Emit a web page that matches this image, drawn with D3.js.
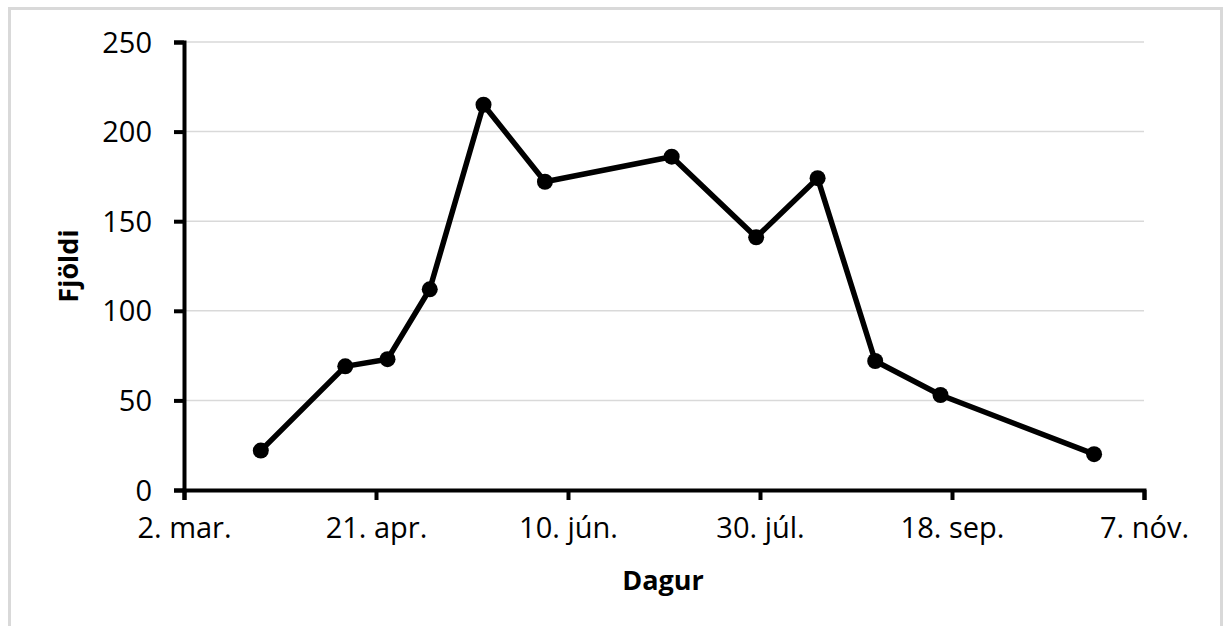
<!DOCTYPE html>
<html>
<head>
<meta charset="utf-8">
<script src="https://cdn.jsdelivr.net/npm/d3@7"></script>
<style>
  body { margin: 0; background: #fff; }
  svg { display: block; }
  .tick text { font-family: "Open Sans", sans-serif; font-size: 29px; fill: #000; }
  .axis-title { font-family: "Open Sans", sans-serif; font-size: 27px; font-weight: bold; }
</style>
</head>
<body>
<div id="chart"></div>
<script>
// Survey dates and counts
const dates = ["2015-03-22", "2015-04-13", "2015-04-24", "2015-05-05", "2015-05-19", "2015-06-04",
               "2015-07-07", "2015-07-29", "2015-08-14", "2015-08-29", "2015-09-15", "2015-10-25"];
const counts = [22, 69, 73, 112, 215, 172, 186, 141, 174, 72, 53, 20];

// Axis ticks
const xTicks = ["2015-03-02", "2015-04-21", "2015-06-10", "2015-07-30", "2015-09-18", "2015-11-07"];
const yTicks = [0, 50, 100, 150, 200, 250];
const monthNames = ["jan", "feb", "mar", "apr", "maí", "jún", "júl", "ágú", "sep", "okt", "nóv", "des"];

const width = 1226, height = 626;
const margin = { top: 42, right: 82, bottom: 136, left: 184 };

const parse = d3.utcParse("%Y-%m-%d");
const data = dates.map((d, i) => ({ date: parse(d), value: counts[i] }));

const svg = d3.select("#chart").append("svg")
    .attr("width", width)
    .attr("height", height);

// Chart frame
svg.append("rect")
    .attr("x", 9.5).attr("y", 8.5)
    .attr("width", 1212).attr("height", 640)
    .attr("fill", "#fff")
    .attr("stroke", "#d9d9d9")
    .attr("stroke-width", 3);

const x = d3.scaleUtc()
    .domain([parse(xTicks[0]), parse(xTicks[xTicks.length - 1])])
    .range([margin.left, width - margin.right]);

const y = d3.scaleLinear()
    .domain([0, 250])
    .range([height - margin.bottom, margin.top]);

// Gridlines
svg.append("g")
    .selectAll("line")
    .data(yTicks.slice(1))
    .enter().append("line")
    .attr("x1", margin.left).attr("x2", width - margin.right)
    .attr("y1", d => y(d)).attr("y2", d => y(d))
    .attr("stroke", "#d9d9d9")
    .attr("stroke-width", 1.5);

// Y axis
const yAxis = svg.append("g")
    .attr("transform", `translate(${margin.left},0)`)
    .call(d3.axisLeft(y).tickValues(yTicks).tickSize(10).tickPadding(22));
yAxis.select(".domain").attr("stroke", "#000").attr("stroke-width", 4);
yAxis.selectAll(".tick line").attr("stroke", "#000").attr("stroke-width", 4);
yAxis.selectAll(".tick text").attr("dy", "0.35em");

// X axis
const fmt = d => `${d.getUTCDate()}. ${monthNames[d.getUTCMonth()]}.`;
const xAxis = svg.append("g")
    .attr("transform", `translate(0,${height - margin.bottom})`)
    .call(d3.axisBottom(x).tickValues(xTicks.map(parse)).tickSize(10).tickPadding(17).tickFormat(fmt));
xAxis.select(".domain").attr("stroke", "#000").attr("stroke-width", 4);
xAxis.selectAll(".tick line").attr("stroke", "#000").attr("stroke-width", 4);

// Line and markers
svg.append("path")
    .datum(data)
    .attr("fill", "none")
    .attr("stroke", "#000")
    .attr("stroke-width", 5.5)
    .attr("stroke-linejoin", "round")
    .attr("d", d3.line().x(d => x(d.date)).y(d => y(d.value)));

svg.append("g")
    .selectAll("circle")
    .data(data)
    .enter().append("circle")
    .attr("cx", d => x(d.date))
    .attr("cy", d => y(d.value))
    .attr("r", 8)
    .attr("fill", "#000");

// Axis titles
svg.append("text")
    .attr("class", "axis-title")
    .attr("x", 663).attr("y", 590)
    .attr("text-anchor", "middle")
    .text("Dagur");

svg.append("text")
    .attr("class", "axis-title")
    .attr("transform", "translate(78,266) rotate(-90)")
    .attr("text-anchor", "middle")
    .text("Fjöldi");
</script>
</body>
</html>
